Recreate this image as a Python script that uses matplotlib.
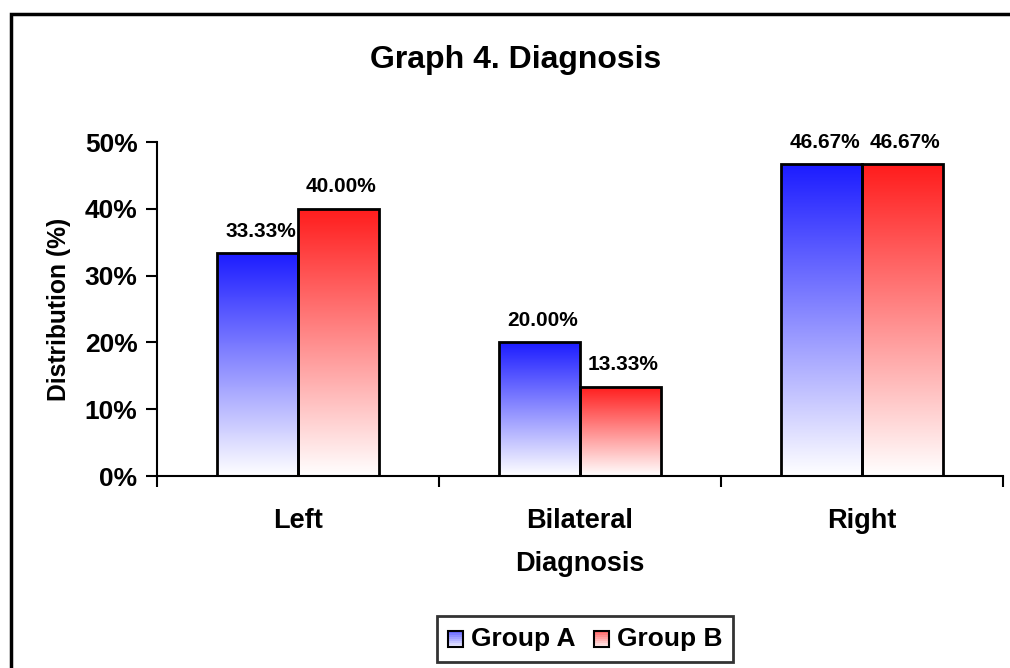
import numpy as np
import matplotlib.pyplot as plt
from matplotlib.colors import LinearSegmentedColormap
from matplotlib.patches import Rectangle
from matplotlib.ticker import PercentFormatter
from matplotlib.legend_handler import HandlerBase

plt.rcParams['font.family'] = ['Liberation Sans', 'DejaVu Sans']
plt.rcParams['font.weight'] = 'bold'

categories = ["Left", "Bilateral", "Right"]
group_a = [33.33, 20.00, 46.67]
group_b = [40.00, 13.33, 46.67]
series_names = ["Group A", "Group B"]

fig = plt.figure(figsize=(10.1, 6.68), dpi=100)
ax = fig.add_axes([157 / 1010, 1 - 476 / 668, 846 / 1010, 334 / 668])

# outer frame of the chart area
fig.patches.append(Rectangle((11 / 1010, -0.05), 1.05, 1 - 14 / 668 + 0.05,
                             transform=fig.transFigure, fill=False,
                             edgecolor='black', linewidth=2.5))

cmaps = [LinearSegmentedColormap.from_list('blue', ['#ffffff', '#1c1cff']),
         LinearSegmentedColormap.from_list('red', ['#ffffff', '#ff1c1c'])]

x = np.arange(len(categories))
width = 0.286
grad = np.linspace(0, 1, 256).reshape(-1, 1)

for i, (vals, cmap) in enumerate(zip([group_a, group_b], cmaps)):
    offs = (i - 0.5) * width
    bars = ax.bar(x + offs, [v / 100 for v in vals], width, facecolor='none',
                  edgecolor='black', linewidth=2, zorder=3, label=series_names[i])
    for b, v in zip(bars, vals):
        x0, w, h = b.get_x(), b.get_width(), b.get_height()
        im = ax.imshow(grad, cmap=cmap, origin='lower', aspect='auto',
                       extent=(x0, x0 + w, 0, h), zorder=2)
        im.set_clip_path(b)
        ax.annotate(f"{v:.2f}%", (x0 + w / 2, h), xytext=(2, 9),
                    textcoords='offset points', ha='center', va='bottom',
                    fontsize=15, fontweight='bold')

ax.set_xlim(-0.5, 2.5)
ax.set_ylim(0, 0.5)
ax.set_yticks(np.arange(0, 0.51, 0.1))
ax.yaxis.set_major_formatter(PercentFormatter(1.0, decimals=0))
ax.set_xticks([-0.5, 0.5, 1.5, 2.5])
ax.set_xticklabels([])
ax.set_xticks(x, minor=True)
ax.set_xticklabels(categories, minor=True)
ax.tick_params(axis='x', which='minor', length=0, pad=23, labelsize=19.5)
ax.tick_params(axis='x', which='major', length=8, width=1.5, direction='out')
ax.tick_params(axis='y', length=8, width=1.5, labelsize=19, pad=6)
for lbl in ax.get_yticklabels() + ax.get_xticklabels(minor=True):
    lbl.set_fontweight('bold')

for s in ['top', 'right']:
    ax.spines[s].set_visible(False)
for s in ['left', 'bottom']:
    ax.spines[s].set_linewidth(1.5)

ax.set_ylabel("Distribution (%)", fontsize=17.7, fontweight='bold', labelpad=10)
ax.set_xlabel("Diagnosis", fontsize=19.5, fontweight='bold', labelpad=12)
fig.text(516 / 1010, 1 - 60 / 668, "Graph 4. Diagnosis", ha='center', va='center',
         fontsize=23, fontweight='bold')


# legend keys: small squares with a pale fade
class GradientHandler(HandlerBase):
    def __init__(self, cmap):
        super().__init__()
        self.cmap = cmap

    def create_artists(self, legend, orig_handle, xd, yd, w, h, fontsize, trans):
        arts = []
        n = 8
        for k in range(n):
            arts.append(Rectangle((xd, yd + h * k / n), w, h / n, transform=trans,
                                  facecolor=self.cmap(0.1 + 0.55 * k / (n - 1)),
                                  edgecolor='none'))
        arts.append(Rectangle((xd, yd), w, h, transform=trans, facecolor='none',
                              edgecolor='black', linewidth=1.5))
        return arts


handles = [Rectangle((0, 0), 1, 1), Rectangle((0, 0), 1, 1)]
leg = fig.legend(handles, series_names, loc='center', bbox_to_anchor=(585 / 1010, 1 - 639 / 668),
                 ncol=2, frameon=True, fancybox=False, edgecolor='black',
                 prop={'weight': 'bold', 'size': 19}, handlelength=0.58, handleheight=0.58,
                 handletextpad=0.3, columnspacing=0.7, borderpad=0.4, borderaxespad=0,
                 handler_map={handles[0]: GradientHandler(cmaps[0]),
                              handles[1]: GradientHandler(cmaps[1])})
leg.get_frame().set_linewidth(2)

fig.savefig("out.png", dpi=100)
